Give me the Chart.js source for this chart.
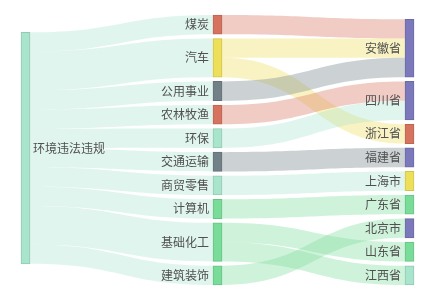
<!DOCTYPE html>
<html>
<head>
<meta charset="utf-8">
<script src="https://cdn.jsdelivr.net/npm/chart.js@4/dist/chart.umd.min.js"></script>
<style>
  body { margin: 0; background: #fff; }
  canvas { display: block; }
</style>
</head>
<body>
<canvas id="sankey" width="435" height="300"></canvas>
<script>
// nodes, in top-to-bottom order inside each column
const nodeNames = ['环境违法违规',
    '煤炭', '汽车', '公用事业', '农林牧渔', '环保', '交通运输', '商贸零售', '计算机', '基础化工', '建筑装饰',
    '安徽省', '四川省', '浙江省', '福建省', '上海市', '广东省', '北京市', '山东省', '江西省'];
const nodeLevels = [0, 1, 1, 1, 1, 1, 1, 1, 1, 1, 1, 2, 2, 2, 2, 2, 2, 2, 2, 2];

// links
const linkSources = ['环境违法违规', '环境违法违规', '环境违法违规', '环境违法违规', '环境违法违规',
    '环境违法违规', '环境违法违规', '环境违法违规', '环境违法违规', '环境违法违规',
    '煤炭', '汽车', '汽车', '公用事业', '农林牧渔', '环保', '交通运输', '商贸零售', '计算机',
    '基础化工', '基础化工', '建筑装饰'];
const linkTargets = ['煤炭', '汽车', '公用事业', '农林牧渔', '环保', '交通运输', '商贸零售', '计算机', '基础化工', '建筑装饰',
    '安徽省', '安徽省', '浙江省', '安徽省', '四川省', '四川省', '福建省', '上海市', '广东省',
    '山东省', '江西省', '北京市'];
const linkValues = [1, 2, 1, 1, 1, 1, 1, 1, 2, 1,
    1, 1, 1, 1, 1, 1, 1, 1, 1, 1, 1, 1];

// colours (style only)
const red = '#d6735f', yellow = '#eddf5a', gray = '#728188',
      purple = '#7b78bb', green = '#79dc98', mint = '#a9e4cd';
const nodeColors = [mint,
    red, yellow, gray, red, mint, gray, mint, green, green, green,
    purple, purple, red, purple, yellow, green, purple, green, mint];

const nodeGap = 0.222;          // gap between nodes, in value units
const columnAlign = [0.45, 0, 1]; // 0 top, 0.5 centre, 1 bottom

// ---- layout in value units ----
const nodes = nodeNames.map((name, i) => ({ name, level: nodeLevels[i], color: nodeColors[i], inV: 0, outV: 0, ins: [], outs: [] }));
const byName = {};
nodes.forEach(n => byName[n.name] = n);
const links = linkSources.map((s, i) => ({ source: byName[s], target: byName[linkTargets[i]], value: linkValues[i] }));
links.forEach(l => {
    l.source.outV += l.value; l.source.outs.push(l);
    l.target.inV += l.value; l.target.ins.push(l);
});
nodes.forEach(n => n.value = Math.max(n.inV, n.outV));

const columns = [0, 1, 2].map(lv => nodes.filter(n => n.level === lv));
const colTotals = columns.map(col => col.reduce((s, n) => s + n.value, 0) + (col.length - 1) * nodeGap);
const maxTotal = Math.max(...colTotals);
columns.forEach((col, lv) => {
    let y = (maxTotal - colTotals[lv]) * columnAlign[lv];
    col.forEach(n => { n.y0 = y; n.y1 = y + n.value; y = n.y1 + nodeGap; });
});
nodes.forEach(n => {
    n.outs.sort((a, b) => a.target.y0 - b.target.y0);
    n.ins.sort((a, b) => a.source.y0 - b.source.y0);
    let y = n.y0;
    n.outs.forEach(l => { l.sy0 = y; l.sy1 = y + l.value; y = l.sy1; });
    y = n.y0;
    n.ins.forEach(l => { l.ty0 = y; l.ty1 = y + l.value; y = l.ty1; });
});

function rgba(hex, a) {
    const v = parseInt(hex.slice(1), 16);
    return `rgba(${v >> 16},${(v >> 8) & 255},${v & 255},${a})`;
}
function darker(hex) {
    const v = parseInt(hex.slice(1), 16);
    const f = c => Math.round(c * 0.88);
    return `rgb(${f(v >> 16)},${f((v >> 8) & 255)},${f(v & 255)})`;
}

const nodeWidth = 9;

const linkPlugin = {
    id: 'sankeyLinks',
    beforeDatasetsDraw(chart) {
        const ctx = chart.ctx, x = chart.scales.x, y = chart.scales.y;
        ctx.save();
        links.forEach(l => {
            const x0 = x.getPixelForValue(l.source.level) + nodeWidth / 2;
            const x1 = x.getPixelForValue(l.target.level) - nodeWidth / 2;
            const xm = (x0 + x1) / 2;
            const a0 = y.getPixelForValue(l.sy0), a1 = y.getPixelForValue(l.sy1);
            const b0 = y.getPixelForValue(l.ty0), b1 = y.getPixelForValue(l.ty1);
            ctx.beginPath();
            ctx.moveTo(x0, a0);
            ctx.bezierCurveTo(xm, a0, xm, b0, x1, b0);
            ctx.lineTo(x1, b1);
            ctx.bezierCurveTo(xm, b1, xm, a1, x0, a1);
            ctx.closePath();
            ctx.fillStyle = rgba(l.source.color, 0.36);
            ctx.fill();
        });
        ctx.restore();
    },
    afterDatasetsDraw(chart) {
        const ctx = chart.ctx, x = chart.scales.x, y = chart.scales.y;
        ctx.save();
        ctx.font = '12px "Noto Sans CJK SC", sans-serif';
        ctx.fillStyle = '#505050';
        ctx.textBaseline = 'middle';
        nodes.forEach(n => {
            const cx = x.getPixelForValue(n.level);
            const cy = y.getPixelForValue((n.y0 + n.y1) / 2);
            if (n.level === 0) {
                ctx.textAlign = 'left';
                ctx.fillText(n.name, cx + nodeWidth / 2 + 3, cy);
            } else {
                ctx.textAlign = 'right';
                ctx.fillText(n.name, cx - nodeWidth / 2 - 4, cy);
            }
        });
        ctx.restore();
    }
};

new Chart(document.getElementById('sankey'), {
    type: 'bar',
    data: {
        labels: ['0', '1', '2'],
        datasets: nodes.map(n => ({
            data: [0, 1, 2].map(lv => lv === n.level ? [n.y0, n.y1] : null),
            backgroundColor: n.color,
            borderColor: darker(n.color),
            borderWidth: 1,
            borderSkipped: false,
            barThickness: nodeWidth,
            grouped: false,
            clip: false
        }))
    },
    options: {
        responsive: false,
        animation: false,
        layout: { padding: { left: 25.5, right: 25.5, top: 15, bottom: 15 } },
        plugins: { legend: { display: false }, tooltip: { enabled: false } },
        scales: {
            x: { type: 'category', offset: false, display: false },
            y: { type: 'linear', reverse: true, min: 0, max: maxTotal, display: false }
        }
    },
    plugins: [linkPlugin]
});
</script>
</body>
</html>
